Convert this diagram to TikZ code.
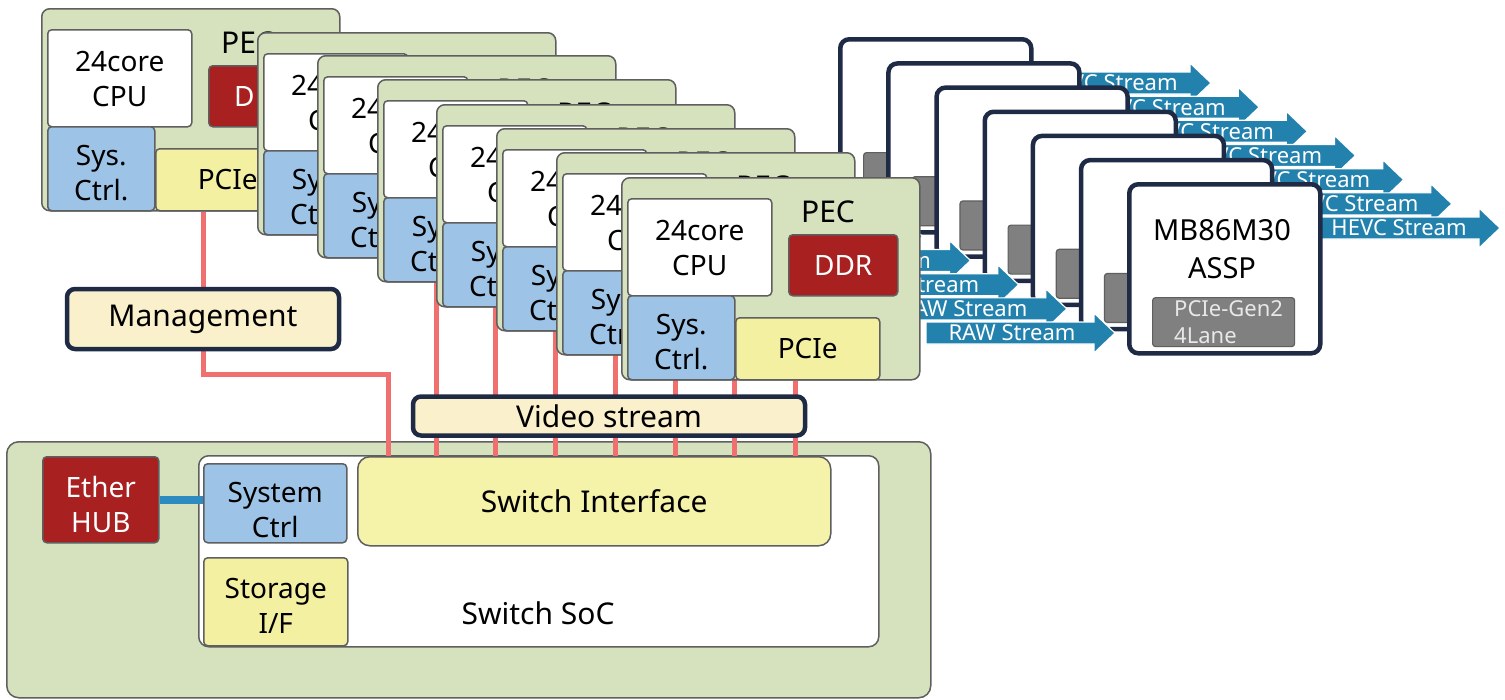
\documentclass[tikz,border=0pt]{standalone}
\usepackage{fontspec}
\setmainfont{Noto Sans}
\usetikzlibrary{calc}
\pgfdeclarelayer{soc}
\pgfdeclarelayer{lines}
\pgfsetlayers{soc,lines,main}
\definecolor{pecgreen}{HTML}{D6E1BE}
\definecolor{edgegray}{HTML}{5F5F5F}
\definecolor{ddrred}{HTML}{A8201F}
\definecolor{sysblue}{HTML}{9DC3E6}
\definecolor{pcieyellow}{HTML}{F3F0A2}
\definecolor{swyellow}{HTML}{F5F2AA}
\definecolor{cream}{HTML}{FAF0CB}
\definecolor{navy}{HTML}{1F2A44}
\definecolor{salmon}{HTML}{F07070}
\definecolor{streamblue}{HTML}{2382AD}
\definecolor{chipgray}{HTML}{808080}
\definecolor{chiptext}{HTML}{E8E8E8}
\definecolor{hubline}{HTML}{2E8BC0}
\newcommand\fs[2]{\fontsize{#1}{#2}\selectfont}
% #1 left x, #2 tip x, #3 center y, #4 text, #5 text x
\newcommand\blockarrow[5]{%
  \fill[streamblue,draw=white,line width=1.2pt] (#1,#3-11) -- (#2-21,#3-11) -- (#2-21,#3-20) -- (#2,#3) -- (#2-21,#3+20) -- (#2-21,#3+11) -- (#1,#3+11) -- cycle;
  \node[font=\fs{22}{26},text=white,inner sep=0pt] at (#5,#3) {#4};}
\begin{document}
\begin{tikzpicture}[x=1pt,y=-1pt,
  box/.style={draw=edgegray,line width=1.5pt,rounded corners=4pt,inner sep=0pt,anchor=north west},
  txt/.style={align=center,inner sep=0pt,font=\fs{28}{35}},
  callout/.style={draw=navy,fill=cream,line width=4.5pt,rounded corners=8pt,inner sep=0pt,font=\fs{30}{36}},
  redline/.style={salmon,line width=5pt},
  asspbox/.style={draw=navy,fill=white,line width=4.5pt,rounded corners=9pt,inner sep=0pt,anchor=north west,minimum width=191pt,minimum height=169pt},
  chipbox/.style={draw=edgegray,fill=chipgray,line width=1.2pt,rounded corners=3pt,inner sep=0pt,anchor=north west,minimum width=142pt,minimum height=49pt}
]
\useasboundingbox (0,0) rectangle (1505,699);
\begin{pgfonlayer}{soc}
  \fill[white] (0,0) rectangle (1505,699);
  \node[box,fill=pecgreen,rounded corners=12pt,minimum width=924pt,minimum height=256pt] (socouter) at (6,441) {};
  \node[box,fill=white,rounded corners=10pt,minimum width=680pt,minimum height=191pt] (soc) at (198,455) {};
\end{pgfonlayer}

% ASSP stack with stream arrows
\foreach \i in {1,...,7} {
  \pgfmathsetmacro\L{836+48.17*(\i-1)}
  \pgfmathsetmacro\T{35+24.17*(\i-1)}
  \blockarrow{\L-199}{\L-10}{\T+153}{RAW Stream}{\L-113}
  \blockarrow{\L+185}{\L+375}{\T+48}{HEVC Stream}{\L+274}
  \node[asspbox] (assp\i) at (\L+2,\T+2) {};
  \node[chipbox] (chip\i) at (\L+27,\T+117) {};
}
\node[txt,font=\fs{29}{38}] (asspname) at (1222,249) {MB86M30\\ASSP};
\node[align=left,inner sep=0pt,anchor=west,text=chiptext,font=\fs{22}{27}] (chiplabel) at (1174,322) {PCIe-Gen2\\4Lane};

% PEC stack
\foreach \L/\T [count=\i] in {41/8,257/32,317/55,377/79,436/104,496/128,556/152,621/177} {
  \node[box,fill=pecgreen,rounded corners=8pt,minimum width=298pt,minimum height=202pt] (pec\i) at (\L,\T) {};
  \node[txt,font=\fs{30}{35}] (pect\i) at (\L+207,\T+35) {PEC};
  \node[box,fill=white,minimum width=144pt,minimum height=97pt] (cpu\i) at (\L+6,\T+21) {};
  \node[txt] (cput\i) at ([yshift=-1pt]cpu\i.center) {24core\\CPU};
  \node[box,fill=ddrred,minimum width=109pt,minimum height=61pt] (ddr\i) at (\L+167,\T+57) {};
  \node[txt,text=white] (ddrt\i) at (ddr\i.center) {DDR};
  \node[box,fill=sysblue,minimum width=107pt,minimum height=84pt] (sys\i) at (\L+6,\T+118) {};
  \node[txt] (syst\i) at ([yshift=-4pt]sys\i.center) {Sys.\\Ctrl.};
  \node[box,fill=pcieyellow,minimum width=144pt,minimum height=62pt] (pcie\i) at (\L+114,\T+140) {};
  \node[txt] (pciet\i) at (pcie\i.center) {PCIe};
}

% Management and video stream
\node[callout,minimum width=272pt,minimum height=60pt] (mgmt) at (203,319) {Management};
\node[callout,minimum width=392pt,minimum height=39pt] (video) at (609,416) {Video stream};

% Switch SoC contents
\node[box,fill=ddrred,minimum width=116pt,minimum height=86pt] (hub) at (42,456) {};
\node[txt,text=white] (hubt) at ([yshift=-5pt]hub.center) {Ether\\HUB};
\node[box,fill=sysblue,minimum width=143pt,minimum height=79pt] (sysctrl) at (203,463) {};
\node[txt] (sysctrlt) at ([yshift=-7pt]sysctrl.center) {System\\Ctrl};
\node[box,fill=pcieyellow,minimum width=144pt,minimum height=88pt] (storage) at (203,557) {};
\node[txt] (storaget) at ([yshift=-4pt]storage.center) {Storage\\I/F};
\node[box,fill=swyellow,rounded corners=12pt,minimum width=473pt,minimum height=89pt,font=\fs{30}{36}] (swif) at (357,456) {Switch Interface};
\node[txt,font=\fs{30}{36}] (soclabel) at (538,613) {Switch SoC};
\draw[hubline,line width=8pt] (hub.east) -- (hub.east -| sysctrl.west);

% red connectors
\begin{pgfonlayer}{lines}
  \draw[redline] (pcie1.south -| mgmt.north) -- (mgmt.north);
  \draw[redline] (mgmt.south) -- ++(0,23) -| ([xshift=31pt]swif.north west);
  \foreach \k/\x in {2/436,3/495,4/555,5/615,6/675,7/734,8/795} {
    \coordinate (vx\k) at (\x,0);
    \draw[redline] (pcie\k.south -| vx\k) -- (vx\k |- swif.north);
  }
\end{pgfonlayer}
\end{tikzpicture}
\end{document}
